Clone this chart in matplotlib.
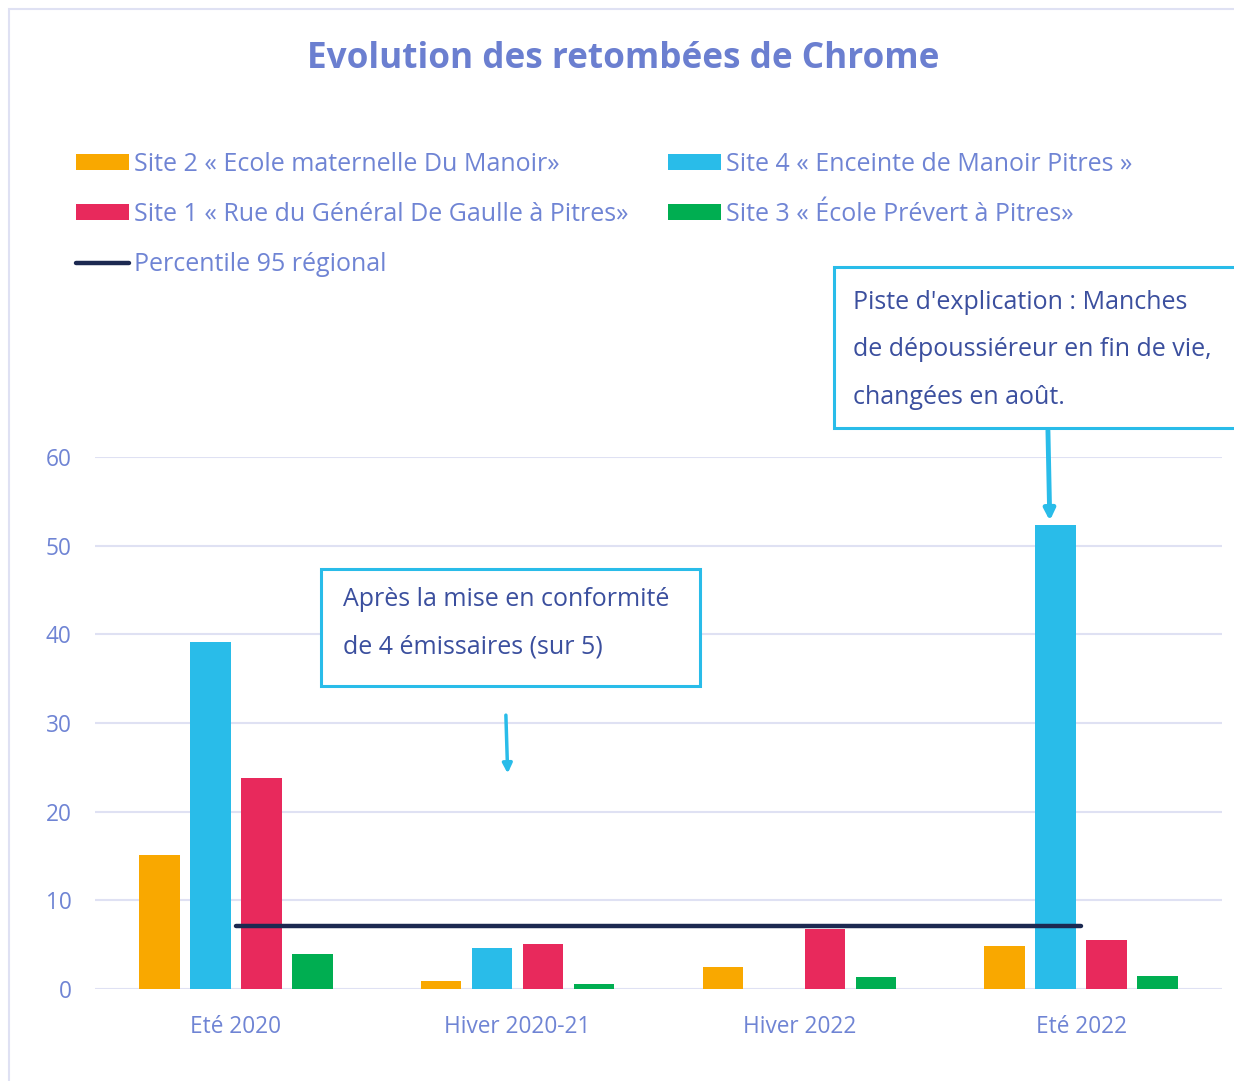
import numpy as np
import matplotlib.pyplot as plt
from matplotlib.patches import Rectangle

plt.rcParams['font.family'] = ['Open Sans', 'DejaVu Sans']

saisons = ["Eté 2020", "Hiver 2020-21", "Hiver 2022", "Eté 2022"]
site2 = [15.1, 0.9, 2.5, 4.8]
site4 = [39.1, 4.6, 0.0, 52.3]
site1 = [23.8, 5.1, 6.8, 5.5]
site3 = [3.95, 0.6, 1.35, 1.5]
p95 = [7.1, 7.1, 7.1, 7.1]

noms = ["Site 2 « Ecole maternelle Du Manoir»",
        "Site 4 « Enceinte de Manoir Pitres »",
        "Site 1 « Rue du Général De Gaulle à Pitres»",
        "Site 3 « École Prévert à Pitres»"]
couleurs = ["#f9a800", "#29bce9", "#e8295c", "#00ae51"]

txt_col = "#6f84d4"
note_col = "#3b4f9e"
grid_col = "#dfe1f3"

W, H = 1234, 1081
fig = plt.figure(figsize=(W/100, H/100), dpi=100)
ax = fig.add_axes([95/W, 1-989/H, (1222-95)/W, (989-457)/H])

# cadre du graphique
fig.patches.append(Rectangle((9/W, -0.1), 1.2, 1-9/H+0.1, transform=fig.transFigure,
                             fill=False, edgecolor=grid_col, lw=1.5))

x = np.arange(len(saisons))
w = 0.143
pas = 0.181
series = [site2, site4, site1, site3]
bars = []
for i, (s, c, n) in enumerate(zip(series, couleurs, noms)):
    b = ax.bar(x + (i-1.5)*pas, s, w, color=c, label=n, zorder=3)
    bars.append(b)
ligne, = ax.plot(x, p95, color="#1c2951", lw=3.2, solid_capstyle='round', zorder=4,
                 label="Percentile 95 régional")

ax.set_xlim(-0.5, 3.5)
ax.set_ylim(0, 60)
ax.set_yticks([0, 10, 20, 30, 40, 50, 60])
ax.set_xticks(x)
ax.set_xticklabels(saisons)
ax.grid(axis='y', color=grid_col, lw=1.5, zorder=0)
for sp in ax.spines.values():
    sp.set_visible(False)
ax.tick_params(length=0, labelsize=16.3, labelcolor=txt_col)
ax.tick_params(axis='y', pad=17)
ax.tick_params(axis='x', pad=19)

fig.text(623/W, 1-59/H, "Evolution des retombées de Chrome", ha='center', va='center',
         fontsize=25.3, fontweight='bold', color="#6b7fd0")

handles = [bars[0], bars[2], ligne, bars[1], bars[3]]
labels = [noms[0], noms[2], "Percentile 95 régional", noms[1], noms[3]]
leg = fig.legend(handles, labels, ncol=2, loc='upper left', bbox_to_anchor=(66/W, 1-142/H),
                 frameon=False, fontsize=18, handlelength=2.1, handleheight=0.6,
                 handletextpad=0.2, columnspacing=1.6, labelspacing=1.0, borderaxespad=0)
for t in leg.get_texts():
    t.set_color(txt_col)

# annotations
def boite(x0, y0, x1, y1):
    fig.patches.append(Rectangle((x0/W, 1-y1/H), (x1-x0)/W, (y1-y0)/H, transform=fig.transFigure,
                                 fill=True, facecolor='white', edgecolor="#29bce9", lw=2.2, zorder=5))

boite(321, 569, 700, 686)
fig.text(343/W, 1-600/H, "Après la mise en conformité", fontsize=18, color=note_col,
         va='center', ha='left', zorder=6)
fig.text(343/W, 1-647/H, "de 4 émissaires (sur 5)", fontsize=18, color=note_col,
         va='center', ha='left', zorder=6)
ax.annotate("", xy=(0.965, 24.0), xytext=(0.958, 31.2), annotation_clip=False,
            arrowprops=dict(arrowstyle='-|>', color="#29bce9", lw=2.5, mutation_scale=14))

boite(834, 267, 1260, 428)
for k, l in enumerate(["Piste d'explication : Manches", "de dépoussiéreur en fin de vie,",
                       "changées en août."]):
    fig.text(853/W, 1-(303+47*k)/H, l, fontsize=18, color=note_col, va='center', ha='left', zorder=6)
ax.annotate("", xy=(2.889, 52.5), xytext=(2.882, 63.3), annotation_clip=False,
            arrowprops=dict(arrowstyle='-|>', color="#29bce9", lw=3.5, mutation_scale=16))

fig.savefig("out.png", dpi=100)
